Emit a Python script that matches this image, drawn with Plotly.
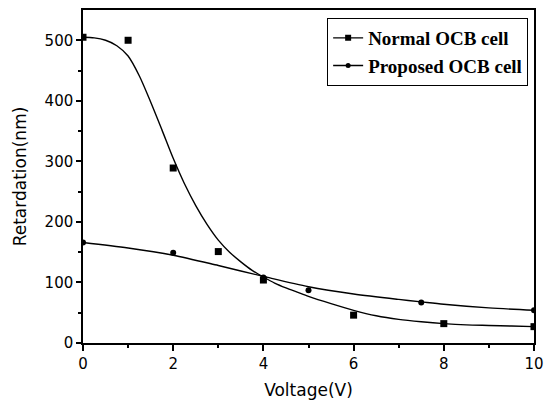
import plotly.graph_objects as go

# Measured data points
normal_x = [0, 1, 2, 3, 4, 6, 8, 10]
normal_y = [505, 500, 289, 151, 104, 46, 32, 27]
proposed_x = [0, 2, 4, 5, 7.5, 10]
proposed_y = [166, 149, 108, 87, 67, 54]

# Fitted curves
normal_fit_x = [0, 0.25, 0.5, 0.75, 1.0, 1.25, 1.5, 1.75, 2.0, 2.25, 2.5, 2.75, 3.0, 3.25,
                3.5, 3.75, 4.0, 4.25, 4.5, 4.75, 5.0, 5.5, 6.0, 6.5, 7.0, 7.5, 8.0, 8.5, 9.0,
                9.5, 10]
normal_fit_y = [505, 504, 500, 491, 474, 441, 398, 352, 305, 263, 227, 196, 170, 150,
                134, 120, 109, 99, 91, 84, 77, 65, 54, 45, 39, 35, 32, 30, 29,
                28, 27]
proposed_fit_x = [0, 1, 2, 3, 4, 5, 6, 7, 7.5, 8, 9, 10]
proposed_fit_y = [166, 157, 145, 128, 110, 93, 81, 72, 68, 64, 58, 54]

legend_names = ["Normal OCB cell", "Proposed OCB cell"]

fig = go.Figure()
fig.add_trace(go.Scatter(x=normal_fit_x, y=normal_fit_y, mode="lines", line_shape="spline",
                         line=dict(color="black", width=1.4, smoothing=0.8), showlegend=False))
fig.add_trace(go.Scatter(x=proposed_fit_x, y=proposed_fit_y, mode="lines", line_shape="spline",
                         line=dict(color="black", width=1.4, smoothing=0.8), showlegend=False))
fig.add_trace(go.Scatter(x=normal_x, y=normal_y, mode="markers",
                         marker=dict(symbol="square", size=7, color="black"), showlegend=False))
fig.add_trace(go.Scatter(x=proposed_x, y=proposed_y, mode="markers",
                         marker=dict(symbol="circle", size=6, color="black"), showlegend=False))
# legend entries
fig.add_trace(go.Scatter(x=[None], y=[None], mode="lines+markers", name=legend_names[0],
                         line=dict(color="black", width=1.4),
                         marker=dict(symbol="square", size=6, color="black")))
fig.add_trace(go.Scatter(x=[None], y=[None], mode="lines+markers", name=legend_names[1],
                         line=dict(color="black", width=1.4),
                         marker=dict(symbol="circle", size=5, color="black")))

tickfont = dict(family="DejaVu Sans", size=15, color="black")
titlefont = dict(family="DejaVu Sans", size=17, color="black")

fig.update_layout(
    width=550, height=401,
    margin=dict(l=83, r=16, t=10, b=58),
    paper_bgcolor="white", plot_bgcolor="white",
    legend=dict(x=0.987, y=0.976, xanchor="right", yanchor="top",
                bordercolor="black", borderwidth=1, bgcolor="white",
                font=dict(family="Liberation Serif", size=19, color="black", weight="bold"),
                tracegroupgap=0),
    xaxis=dict(range=[0, 10], tickvals=[0, 2, 4, 6, 8, 10], ticks="outside", ticklen=6,
               tickwidth=1.5, tickcolor="black", showline=True, linecolor="black", linewidth=1.5,
               mirror=True, showgrid=False, zeroline=False, tickfont=tickfont, automargin=False,
               minor=dict(tickvals=[1, 3, 5, 7, 9], ticks="outside", ticklen=3, tickcolor="black",
                          tickwidth=1.5),
               title=dict(text="Voltage(V)", font=titlefont, standoff=12)),
    yaxis=dict(range=[0, 550], tickvals=[0, 100, 200, 300, 400, 500], ticks="outside", ticklen=5,
               tickwidth=1.5, tickcolor="black", showline=True, linecolor="black", linewidth=1.5,
               mirror=True, showgrid=False, zeroline=False, tickfont=tickfont, automargin=False,
               minor=dict(tickvals=[50, 150, 250, 350, 450], ticks="outside", ticklen=3,
                          tickcolor="black", tickwidth=1.5),
               title=dict(text="Retardation(nm)", font=titlefont, standoff=14)),
)

fig.write_html("out.html")
